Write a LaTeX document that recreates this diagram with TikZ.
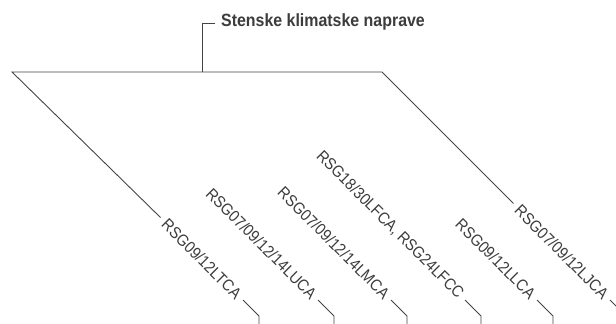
\documentclass[tikz,border=0pt]{standalone}
\usepackage{fontspec}
\usetikzlibrary{calc}
\setmainfont{Liberation Sans}
\newfontfamily\labfont[FakeStretch=0.9]{Liberation Sans}
\definecolor{ink}{HTML}{3C3C3C}
\definecolor{wire}{HTML}{444444}
\tikzset{
  wirestyle/.style={draw=wire, line width=0.9pt},
  lab/.style={font=\labfont\fontsize{16.3}{18}\selectfont, text=ink, inner sep=0pt, rotate=-45, anchor=east},
  ttl/.style={font=\labfont\bfseries\fontsize{17.7}{20}\selectfont, text=ink, inner sep=0pt, anchor=base west}
}
\begin{document}
\begin{tikzpicture}[x=1pt,y=-1pt]
\useasboundingbox (0,0) rectangle (616,324);
\clip (0,0) rectangle (616,324);
% title
\node[ttl] (title) at (221,26.7) {Stenske klimatske naprave};
\coordinate (stub) at (202,23.3);
\coordinate (stem) at (202,72);
\coordinate (L) at (12,72);
\coordinate (R) at (382,72);
% labels: each lies on the line y = x + k
\node[lab] (laba) at ({296-57},296) {RSG09/12LTCA};
\node[lab] (labb) at ({296+18},296) {RSG07/09/12/14LUCA};
\node[lab] (labc) at ({296+91},296) {RSG07/09/12/14LMCA};
\node[lab] (labd) at ({296+165},296) {RSG18/30LFCA, RSG24LFCC};
\node[lab] (labe) at ({296+237},296) {RSG09/12LLCA};
\node[lab] (labf) at ({296+310},296) {RSG07/09/12LJCA};
\foreach \k/\name in {57/a, -18/b, -91/c, -165/d, -237/e, -310/f}{
  \coordinate (s\name) at ({300-\k},300);
  \coordinate (b\name) at ({316-\k},316);
  \coordinate (d\name) at ({316-\k},330);
  \draw[wirestyle] (s\name) -- (b\name) -- (d\name);
}
\draw[wirestyle] ($(title.west |- stub)+(-6,0)$) -- (stub) -- (stem);
\draw[wirestyle] ($(labf.west)+(-4,-4)$) -- (R) -- (L) -- ($(laba.west)+(-4,-4)$);
\end{tikzpicture}
\end{document}
